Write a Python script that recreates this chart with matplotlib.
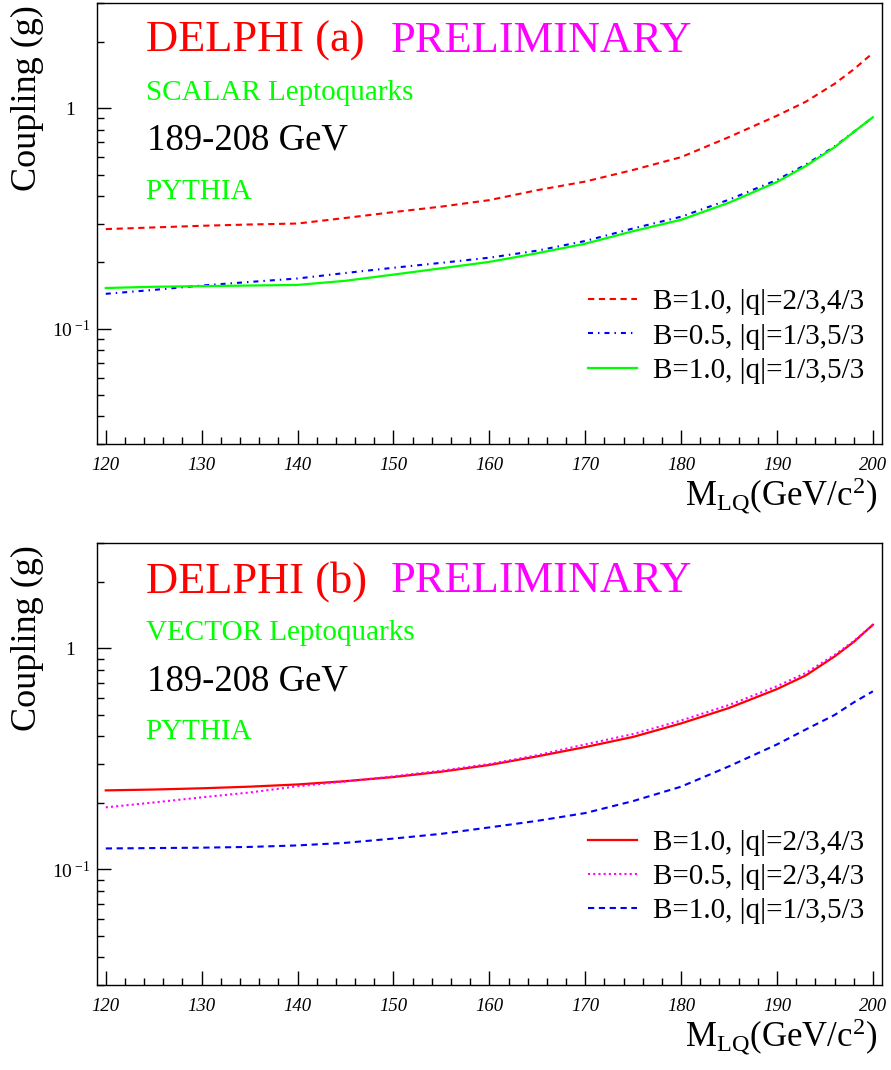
import matplotlib
matplotlib.use("Agg")
import matplotlib.pyplot as plt
from matplotlib.ticker import LogLocator, NullFormatter, MultipleLocator

plt.rcParams["font.family"] = "Liberation Serif"
plt.rcParams["mathtext.fontset"] = "custom"
plt.rcParams["mathtext.rm"] = "Liberation Serif"
plt.rcParams["mathtext.it"] = "Liberation Serif:italic"

# mass points (GeV/c^2)
mass = [120, 125, 130, 135, 140, 145, 150, 155, 160, 165, 170, 175, 180,
        185, 190, 193, 196, 198, 200]

# (a) scalar leptoquarks
sc_b10_q24 = [0.283, 0.288, 0.293, 0.297, 0.300, 0.318, 0.338, 0.358, 0.383,
              0.425, 0.465, 0.525, 0.600, 0.740, 0.925, 1.07, 1.29, 1.50, 1.78]
sc_b05_q15 = [0.144, 0.150, 0.157, 0.163, 0.169, 0.179, 0.189, 0.199, 0.210,
              0.226, 0.250, 0.285, 0.322, 0.385, 0.473, 0.555, 0.670, 0.780, 0.91]
sc_b10_q15 = [0.153, 0.155, 0.156, 0.157, 0.158, 0.165, 0.176, 0.188, 0.201,
              0.220, 0.243, 0.277, 0.312, 0.373, 0.463, 0.547, 0.665, 0.780, 0.91]

# (b) vector leptoquarks
vc_b10_q24 = [0.228, 0.230, 0.233, 0.237, 0.2425, 0.251, 0.262, 0.277, 0.297,
              0.325, 0.358, 0.398, 0.458, 0.538, 0.655, 0.755, 0.92, 1.07, 1.28]
vc_b05_q24 = [0.191, 0.201, 0.212, 0.223, 0.238, 0.250, 0.264, 0.280, 0.300,
              0.329, 0.368, 0.410, 0.472, 0.555, 0.675, 0.775, 0.935, 1.08, 1.28]
vc_b10_q15 = [0.1245, 0.125, 0.1255, 0.1265, 0.1285, 0.132, 0.138, 0.145, 0.155,
              0.166, 0.180, 0.204, 0.237, 0.293, 0.368, 0.430, 0.500, 0.570, 0.64]

xticks = [120, 130, 140, 150, 160, 170, 180, 190, 200]
yticks = [0.1, 1]
ylabels = [r"$\mathit{10}^{\;\mathit{-1}}$", r"$\mathit{1}$"]

RED, GREEN, BLUE, MAG = "#ff0000", "#00ff00", "#0000ff", "#ff00ff"

fig = plt.figure(figsize=(8.91, 10.7), dpi=100)
ax1 = fig.add_axes([0.1085, 0.585, 0.8814, 0.4122])
ax2 = fig.add_axes([0.1085, 0.0794, 0.8814, 0.4131])


def style(ax):
    ax.set_yscale("log")
    ax.set_xlim(119.05, 200.95)
    ax.set_ylim(0.03, 3)
    ax.set_xticks(xticks, [str(t) for t in xticks], fontstyle="italic", fontsize=13.5)
    ax.set_yticks(yticks, ylabels, fontsize=14)
    ax.xaxis.set_minor_locator(MultipleLocator(2))
    ax.yaxis.set_minor_locator(LogLocator(subs=range(2, 10)))
    ax.yaxis.set_minor_formatter(NullFormatter())
    ax.tick_params(which="both", direction="in", top=False, right=False, width=1)
    ax.tick_params(which="major", length=10)
    ax.tick_params(which="minor", length=5)
    ax.tick_params(axis="x", which="major", pad=9)
    ax.tick_params(axis="y", which="major", pad=5)
    # the "1" label sits further from the axis in the original
    ax.yaxis.get_major_ticks()[1].set_pad(15)
    for s in ax.spines.values():
        s.set_linewidth(1.0)
    ax.text(-0.088, 0.995, "Coupling (g)", rotation=90, ha="center", va="top",
            fontsize=26, transform=ax.transAxes)
    ax.text(0.994, -0.138, r"M$_{\mathrm{LQ}}$(GeV/c$^{2}$)", ha="right",
            va="baseline", fontsize=25, transform=ax.transAxes)


for ax, tag, kind in [(ax1, "(a)", "SCALAR Leptoquarks"),
                      (ax2, "(b)", "VECTOR Leptoquarks")]:
    style(ax)
    ax.text(0.0624, 0.889, "DELPHI " + tag, color=RED, fontsize=32,
            va="baseline", transform=ax.transAxes)
    ax.text(0.3745, 0.889, "PRELIMINARY", color=MAG, fontsize=32,
            va="baseline", transform=ax.transAxes)
    ax.text(0.0624, 0.780, kind, color=GREEN, fontsize=21,
            va="baseline", transform=ax.transAxes)
    ax.text(0.0637, 0.667, "189-208 GeV", color="black", fontsize=26.5,
            va="baseline", transform=ax.transAxes)
    ax.text(0.0624, 0.556, "PYTHIA", color=GREEN, fontsize=21,
            va="baseline", transform=ax.transAxes)

# panel (a)
ax1.plot(mass, sc_b10_q24, color=RED, lw=1.5, linestyle=(0, (3, 2.2)),
         label="B=1.0, |q|=2/3,4/3")
ax1.plot(mass, sc_b05_q15, color=BLUE, lw=1.5, linestyle=(0, (2.4, 2.4, 0.7, 2.4)),
         label="B=0.5, |q|=1/3,5/3")
ax1.plot(mass, sc_b10_q15, color=GREEN, lw=1.6, linestyle="-",
         label="B=1.0, |q|=1/3,5/3")

# panel (b)
ax2.plot(mass, vc_b10_q24, color=RED, lw=1.6, linestyle="-",
         label="B=1.0, |q|=2/3,4/3")
ax2.plot(mass, vc_b05_q24, color=MAG, lw=1.5, linestyle=(0, (1, 1.5)),
         label="B=0.5, |q|=2/3,4/3")
ax2.plot(mass, vc_b10_q15, color=BLUE, lw=1.5, linestyle=(0, (3, 2.2)),
         label="B=1.0, |q|=1/3,5/3")

for ax in (ax1, ax2):
    ax.legend(frameon=False, loc="upper left", bbox_to_anchor=(0.6255, 0.352),
              borderpad=0, borderaxespad=0, handlelength=1.7, handletextpad=0.52,
              labelspacing=0.27, fontsize=21)

fig.savefig("out.png", dpi=100)
